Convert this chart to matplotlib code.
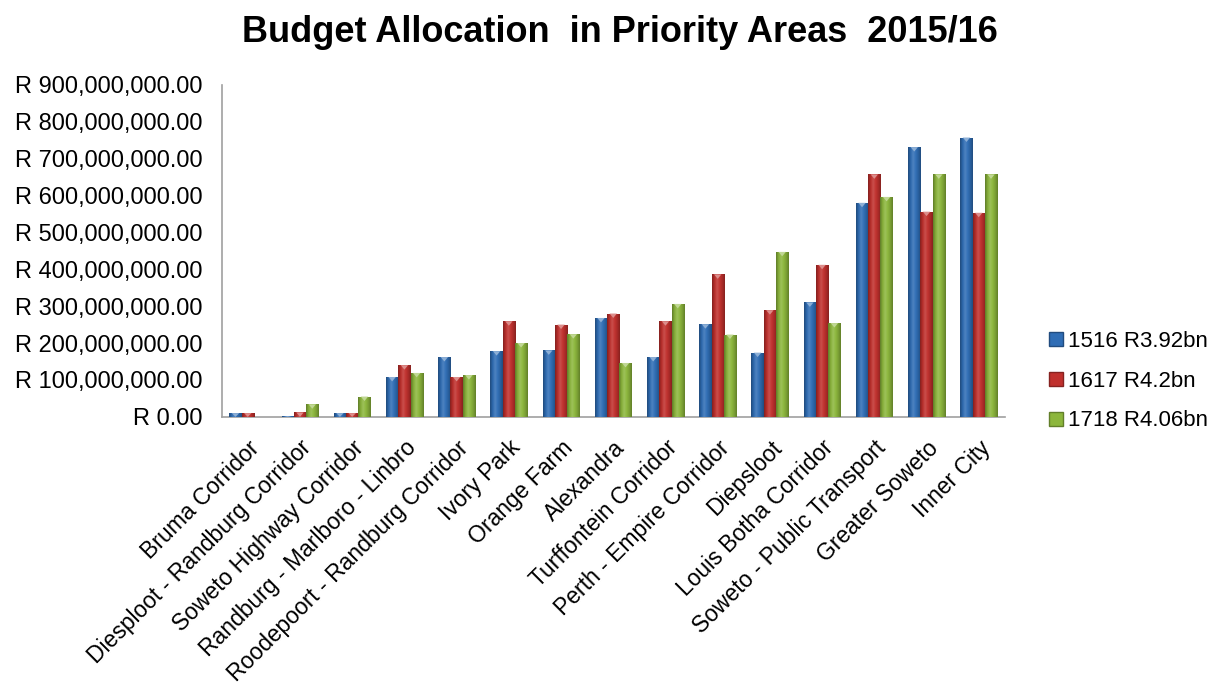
import numpy as np
import matplotlib.pyplot as plt
from matplotlib.colors import to_rgb
from matplotlib.patches import Patch, Polygon
from matplotlib.ticker import FuncFormatter

plt.rcParams['font.family'] = ['Liberation Sans', 'DejaVu Sans']

areas = [
    "Bruma Corridor", "Diesploot - Randburg Corridor", "Soweto Highway Corridor",
    "Randburg - Marlboro - Linbro", "Roodepoort - Randburg Corridor", "Ivory Park",
    "Orange Farm", "Alexandra", "Turffontein Corridor", "Perth - Empire Corridor",
    "Diepsloot", "Louis Botha Corridor", "Soweto - Public Transport",
    "Greater Soweto", "Inner City",
]
budget_1516 = [10e6, 2e6, 10e6, 108e6, 162e6, 178e6, 180e6, 268e6, 162e6,
               251e6, 174e6, 310e6, 580e6, 731e6, 757e6]
budget_1617 = [10e6, 12e6, 10e6, 140e6, 108e6, 259e6, 250e6, 280e6, 259e6,
               386e6, 289e6, 412e6, 657e6, 556e6, 553e6]
budget_1718 = [0, 34e6, 55e6, 119e6, 113e6, 200e6, 224e6, 146e6, 306e6,
               223e6, 447e6, 254e6, 596e6, 657e6, 657e6]
series_labels = ["1516 R3.92bn", "1617 R4.2bn", "1718 R4.06bn"]
colors = ["#2f6db5", "#c0302d", "#8cb63c"]


def shade(c, f):
    r = np.array(to_rgb(c))
    if f < 1:
        return r * f
    return r + (1 - r) * (f - 1)


def gradient_bars(ax, xs, heights, width, color):
    # cylinder-like shading across each bar
    prof = [0.68, 0.95, 1.15, 1.02, 0.88, 0.70]
    stops = np.linspace(0, 1, len(prof))
    t = np.linspace(0, 1, 64)
    cols = np.stack([np.interp(t, stops, [shade(color, p)[k] for p in prof])
                     for k in range(3)], axis=-1)
    img = cols[np.newaxis, :, :]
    bars = ax.bar(xs, heights, width, color=color, edgecolor="none", zorder=2)
    for b in bars:
        h = b.get_height()
        if h <= 0:
            continue
        x0 = b.get_x()
        im = ax.imshow(img, extent=(x0, x0 + width, 0, h), aspect="auto",
                       zorder=3, interpolation="bilinear")
        im.set_clip_path(b)
        # small bevel triangle on top
        th = min(12e6, h)
        tri = Polygon([(x0 + width * 0.2, h), (x0 + width * 0.8, h),
                       (x0 + width * 0.5, h - th)], closed=True,
                      facecolor=shade(color, 1.45), edgecolor="none", zorder=4)
        ax.add_patch(tri)
    return bars


fig = plt.figure(figsize=(12.18, 6.89), dpi=100)
ax = fig.add_axes([0.182, 0.395, 0.643, 0.482])

x = np.arange(len(areas))
w = 0.235
for i, (vals, c) in enumerate(zip([budget_1516, budget_1617, budget_1718], colors)):
    gradient_bars(ax, x + (i - 1) * w, vals, w, c)

ax.set_xlim(-0.5, len(areas) - 0.5)
ax.set_ylim(0, 900e6)
ax.set_yticks(np.arange(0, 900e6 + 1, 100e6))
ax.yaxis.set_major_formatter(FuncFormatter(lambda v, p: f"R {v:,.2f}"))
ax.tick_params(axis="y", length=0, labelsize=17, pad=14)
ax.set_xticks(x)
ax.set_xticklabels(areas, rotation=45, ha="right", va="top",
                   rotation_mode="anchor", fontsize=16.5)
ax.tick_params(axis="x", length=0, pad=14)

for s in ["top", "right"]:
    ax.spines[s].set_visible(False)
ax.spines["left"].set_color("#a0a0a0")
ax.spines["bottom"].set_color("#a0a0a0")
ax.spines["left"].set_linewidth(1.2)
ax.spines["bottom"].set_linewidth(1.2)

fig.suptitle("Budget Allocation  in Priority Areas  2015/16", fontsize=26,
             fontweight="bold", x=0.509, y=0.978)

handles = [Patch(facecolor=c, edgecolor=shade(c, 0.7)) for c in colors]
fig.legend(handles, series_labels, loc="center left",
           bbox_to_anchor=(0.845, 0.447), frameon=False, fontsize=16,
           handlelength=0.6, handleheight=0.6, handletextpad=0.25,
           labelspacing=0.85)

fig.savefig("out.png", dpi=100)
